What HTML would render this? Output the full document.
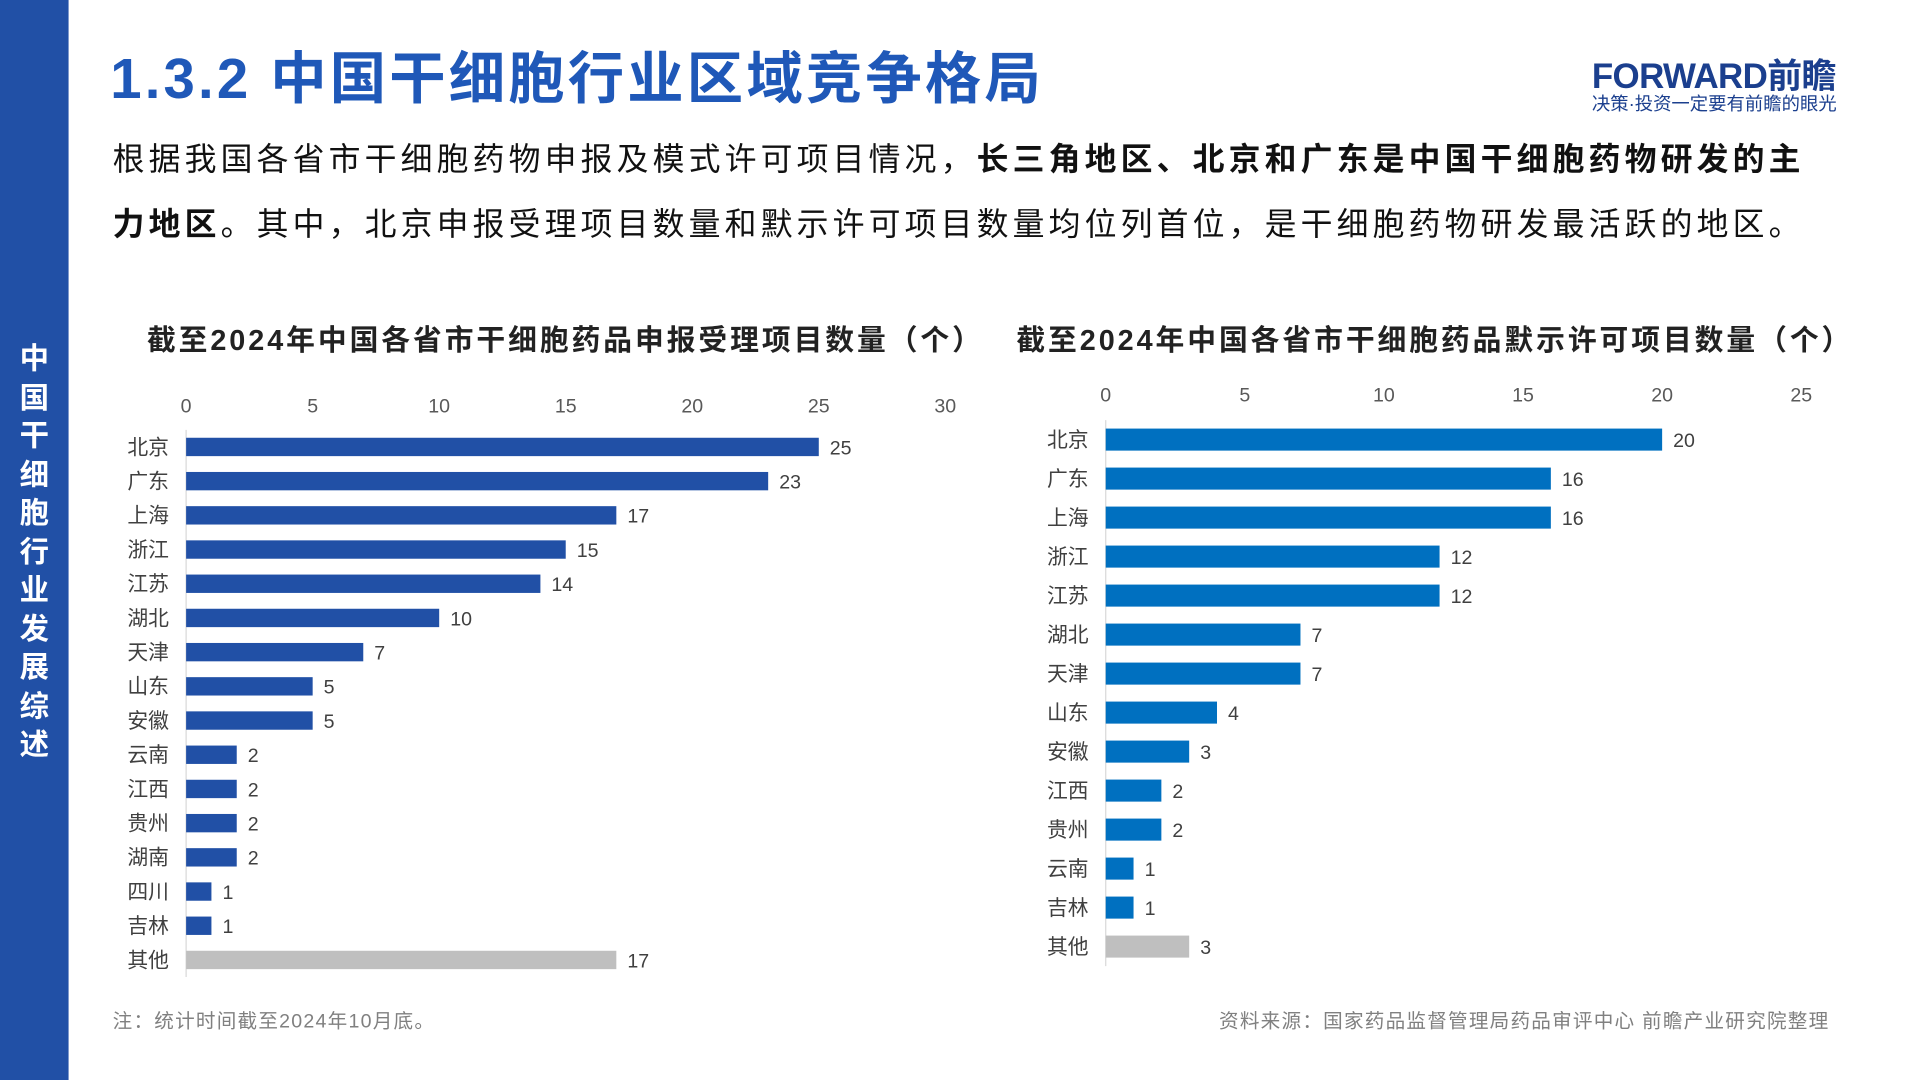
<!DOCTYPE html>
<html><head><meta charset="utf-8">
<style>
html,body{margin:0;padding:0;width:1920px;height:1080px;overflow:hidden;background:#fff;}
#stage{position:absolute;left:0;top:0;width:1568px;height:882px;transform:scale(1.2245);transform-origin:0 0;font-family:"Liberation Sans","Noto Sans CJK SC",sans-serif;}
.abs{position:absolute;white-space:nowrap;}
#side{left:0;top:0;width:56px;height:882px;background:#2150A6;}
#sidetext{left:14px;top:278px;width:28px;color:#fff;font-weight:bold;font-size:24px;line-height:31.5px;white-space:normal;text-align:center;}
#title{left:90px;top:28px;font-size:46px;font-weight:bold;color:#1F58B8;letter-spacing:2.6px;}
#logo{left:1300px;top:40px;font-size:28.5px;font-weight:bold;color:#1B3F8E;letter-spacing:-0.5px;}
#slogan{left:1300px;top:74px;font-size:15px;color:#1B3F8E;}
.para{left:92px;font-size:26px;color:#111;letter-spacing:3.4px;}
.ctitle{font-size:23.5px;font-weight:bold;color:#222;letter-spacing:2.4px;}
.note{font-size:16px;color:#808080;top:820px;letter-spacing:1px;}
svg text{font-family:"Liberation Sans","Noto Sans CJK SC",sans-serif;}
</style></head><body>
<div id="stage">
<div id="side" class="abs"></div>
<div id="sidetext" class="abs">中国干细胞行业发展综述</div>
<div id="title" class="abs">1.3.2 中国干细胞行业区域竞争格局</div>
<div id="logo" class="abs">FORWARD前瞻</div>
<div id="slogan" class="abs">决策·投资一定要有前瞻的眼光</div>
<div class="abs para" style="top:110px">根据我国各省市干细胞药物申报及模式许可项目情况，<b>长三角地区、北京和广东是中国干细胞药物研发的主</b></div>
<div class="abs para" style="top:163px"><b>力地区</b>。其中，北京申报受理项目数量和默示许可项目数量均位列首位，是干细胞药物研发最活跃的地区。</div>
<div class="abs ctitle" style="left:120px;top:259px">截至2024年中国各省市干细胞药品申报受理项目数量（个）</div>
<div class="abs ctitle" style="left:830px;top:259px">截至2024年中国各省市干细胞药品默示许可项目数量（个）</div>
<svg id="charts" class="abs" style="left:0;top:0" width="1568" height="882"></svg>
<div class="abs note" style="left:92px">注：统计时间截至2024年10月底。</div>
<div class="abs note" style="right:74px">资料来源：国家药品监督管理局药品审评中心 前瞻产业研究院整理</div>
</div>
<script>
const leftCats=["北京","广东","上海","浙江","江苏","湖北","天津","山东","安徽","云南","江西","贵州","湖南","四川","吉林","其他"];
const leftVals=[25,23,17,15,14,10,7,5,5,2,2,2,2,1,1,17];
const leftTicks=[0,5,10,15,20,25,30];
const rightCats=["北京","广东","上海","浙江","江苏","湖北","天津","山东","安徽","江西","贵州","云南","吉林","其他"];
const rightVals=[20,16,16,12,12,7,7,4,3,2,2,1,1,3];
const rightTicks=[0,5,10,15,20,25];
const NS="http://www.w3.org/2000/svg";
const svg=document.getElementById('charts');
function mk(tag,attrs,txt){const e=document.createElementNS(NS,tag);for(const k in attrs)e.setAttribute(k,attrs[k]);if(txt!==undefined)e.textContent=txt;svg.appendChild(e);return e;}
function draw(cfg){
  const xs=v=>cfg.x0+(v-cfg.tmin)/(cfg.tmax-cfg.tmin)*(cfg.x1-cfg.x0);
  const ys=i=>cfg.yFirst+i*cfg.step;
  cfg.ticks.forEach(t=>{
    const e=mk('text',{x:xs(t),y:cfg.tickY,'text-anchor':'middle','font-size':16,fill:'#595959'},t);
    
    
  });
  const ax=mk('line',{x1:cfg.x0,x2:cfg.x0,y1:ys(0)-cfg.step/2,y2:ys(cfg.cats.length-1)+cfg.step/2,stroke:'#d9d9d9','stroke-width':1});
  
  
  cfg.cats.forEach((c,i)=>{
    const v=cfg.vals[i],y=ys(i);
    const r=mk('rect',{x:xs(0),y:y-cfg.bh/2,width:xs(v)-xs(0),height:cfg.bh,fill:c==="其他"?'#BFBFBF':cfg.color});
    
    
    const l=mk('text',{x:cfg.x0-14,y:y+6,'text-anchor':'end','font-size':17,fill:'#404040'},c);
    
    
    const vl=mk('text',{x:xs(v)+9,y:y+6,'font-size':16,fill:'#404040'},v);
    
    
  });
}
draw({name:'left-chart',cats:leftCats,vals:leftVals,ticks:leftTicks,tmin:0,tmax:30,x0:152,x1:772,tickY:337,yFirst:365,step:27.93,bh:15,color:'#2150A6'});
draw({name:'right-chart',cats:rightCats,vals:rightVals,ticks:rightTicks,tmin:0,tmax:25,x0:903,x1:1471,tickY:328,yFirst:359,step:31.85,bh:18,color:'#0070C0'});
</script>
</body></html>
